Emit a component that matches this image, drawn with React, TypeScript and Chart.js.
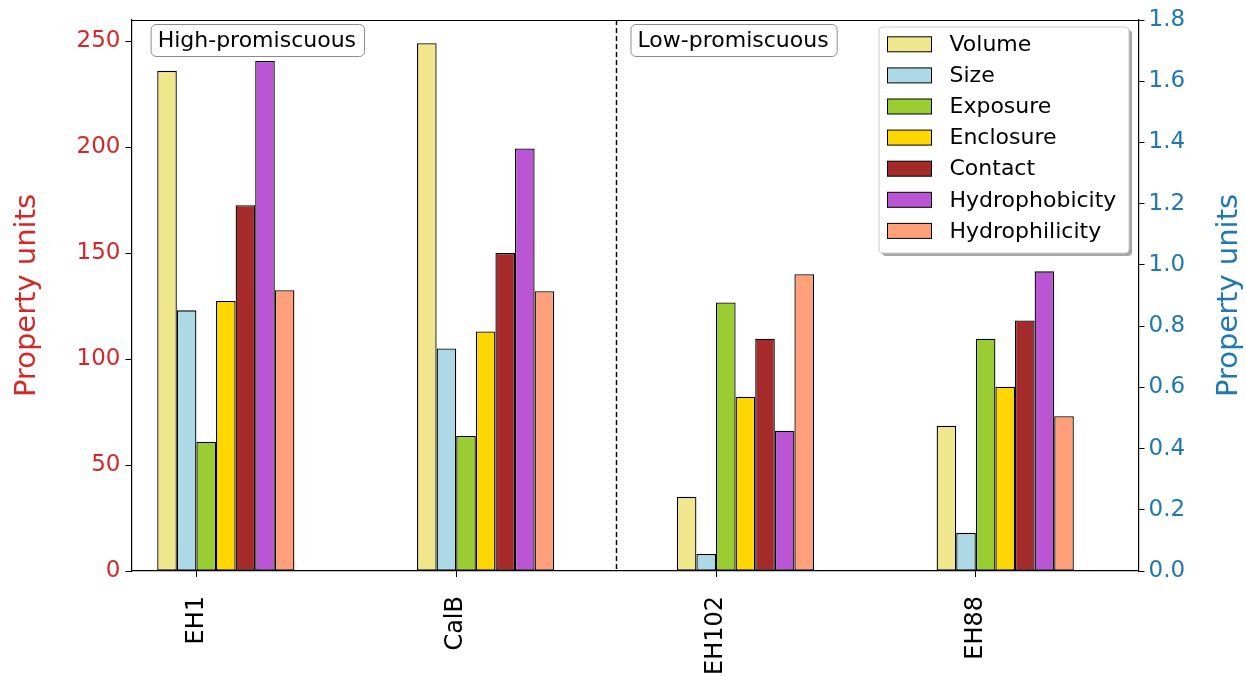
import React, { useEffect, useRef } from "react";
import { Chart, registerables } from "chart.js";

Chart.register(...registerables);

// ---------- data ----------
const categories = ["EH1", "CalB", "EH102", "EH88"];
const groupPositions = [0, 1, 2, 3];
const seriesNames = ["Volume", "Size", "Exposure", "Enclosure", "Contact", "Hydrophobicity", "Hydrophilicity"];
const seriesColors = ["#F0E68C", "#ADD8E6", "#9ACD32", "#FFD700", "#A52A2A", "#BA55D3", "#FFA07A"];
const volume = [236, 249, 35, 68.5];
const size = [123, 105, 8, 18];
const exposure = [61, 63.7, 126.7, 109.6];
const enclosure = [127.4, 113, 82.2, 87];
const contact = [172.6, 150, 109.6, 118.2];
const hydrophobicity = [240.7, 199.4, 66.2, 141.4];
const hydrophilicity = [132.5, 132, 140, 73];
const seriesValues = [volume, size, exposure, enclosure, contact, hydrophobicity, hydrophilicity];
const leftTicks = [0, 50, 100, 150, 200, 250];
const rightTicks = [0.0, 0.2, 0.4, 0.6, 0.8, 1.0, 1.2, 1.4, 1.6, 1.8];
const groupLabels = ["High-promiscuous", "Low-promiscuous"];
const dividerPosition = 1.5;
const axisTitle = "Property units";

// ---------- layout constants ----------
const FONT = "DejaVu Sans";
const GROUP_WIDTH = 0.528; // fraction of category spacing covered by a group
const TICK_SHIFT = -1.5 * (GROUP_WIDTH / 7);
const LEFT_COLOR = "#d62728";
const RIGHT_COLOR = "#1f77b4";

function roundRect(ctx: CanvasRenderingContext2D, x: number, y: number, w: number, h: number, r: number) {
  ctx.beginPath();
  ctx.moveTo(x + r, y);
  ctx.lineTo(x + w - r, y);
  ctx.arcTo(x + w, y, x + w, y + r, r);
  ctx.lineTo(x + w, y + h - r);
  ctx.arcTo(x + w, y + h, x + w - r, y + h, r);
  ctx.lineTo(x + r, y + h);
  ctx.arcTo(x, y + h, x, y + h - r, r);
  ctx.lineTo(x, y + r);
  ctx.arcTo(x, y, x + r, y, r);
  ctx.closePath();
}

const decorPlugin = {
  id: "decor",
  afterDraw(chart: any) {
    const ctx: CanvasRenderingContext2D = chart.ctx;
    const a = chart.chartArea;
    const xs = chart.scales.x;
    ctx.save();
    // frame (top spine)
    ctx.strokeStyle = "#000";
    ctx.lineWidth = 1.2;
    ctx.beginPath();
    ctx.moveTo(a.left, a.top + 0.5);
    ctx.lineTo(a.right, a.top + 0.5);
    ctx.stroke();

    // divider
    const dx = Math.round(xs.getPixelForValue(dividerPosition)) + 0.5;
    ctx.setLineDash([5, 3]);
    ctx.lineWidth = 1.5;
    ctx.beginPath();
    ctx.moveTo(dx, a.top);
    ctx.lineTo(dx, a.bottom);
    ctx.stroke();
    ctx.setLineDash([]);

    // right axis title (reads bottom-to-top)
    ctx.save();
    ctx.translate(1229, (a.top + a.bottom) / 2);
    ctx.rotate(-Math.PI / 2);
    ctx.font = `29px "${FONT}"`;
    ctx.fillStyle = RIGHT_COLOR;
    ctx.textAlign = "center";
    ctx.textBaseline = "middle";
    ctx.fillText(axisTitle, 0, 0);
    ctx.restore();

    // group annotations
    ctx.font = `22px "${FONT}"`;
    ctx.textBaseline = "middle";
    ctx.textAlign = "left";
    const width = a.right - a.left;
    const boxLefts = [a.left + 0.019 * width, a.left + 0.4955 * width];
    groupLabels.forEach((label, i) => {
      const tw = ctx.measureText(label).width;
      const bx = boxLefts[i];
      const by = a.top + 4;
      const bw = tw + 15;
      const bh = 32;
      roundRect(ctx, bx + 0.5, by + 0.5, bw, bh, 5);
      ctx.fillStyle = "#fff";
      ctx.fill();
      ctx.strokeStyle = "#8c8c8c";
      ctx.lineWidth = 1;
      ctx.stroke();
      ctx.fillStyle = "#000";
      ctx.fillText(label, bx + 7, by + bh / 2 + 1);
    });

    // legend
    const lw = 250;
    const lh = 226;
    const lx = a.right - 9.5 - lw;
    const ly = a.top + 7;
    roundRect(ctx, lx + 3, ly + 3, lw, lh, 4);
    ctx.fillStyle = "rgba(0,0,0,0.35)";
    ctx.fill();
    roundRect(ctx, lx, ly, lw, lh, 4);
    ctx.fillStyle = "#fff";
    ctx.fill();
    ctx.strokeStyle = "#cccccc";
    ctx.lineWidth = 1;
    ctx.stroke();
    chart.data.datasets.forEach((ds: any, k: number) => {
      const cy = ly + 17.3 + k * 31.1;
      ctx.fillStyle = ds.backgroundColor;
      ctx.fillRect(lx + 8.5, cy - 7.5, 44, 15);
      ctx.strokeStyle = "#000";
      ctx.lineWidth = 1;
      ctx.strokeRect(lx + 8.5, cy - 7.5, 44, 15);
      ctx.fillStyle = "#000";
      ctx.fillText(ds.label, lx + 70.5, cy + 1);
    });
    ctx.restore();
  },
};

export default function App() {
  const canvasRef = useRef<HTMLCanvasElement | null>(null);

  useEffect(() => {
    if (!canvasRef.current) return;
    const datasets = seriesNames.map((name, k) => ({
      label: name,
      data: groupPositions.map((x, i) => ({ x, y: seriesValues[k][i] })),
      backgroundColor: seriesColors[k],
      borderColor: "#000",
      borderWidth: 1.3,
      borderSkipped: false as const,
      categoryPercentage: GROUP_WIDTH,
      barPercentage: 1,
      yAxisID: "y",
    }));

    const chart = new Chart(canvasRef.current, {
      type: "bar",
      data: { datasets },
      options: {
        animation: false,
        responsive: false,
        layout: { padding: { left: 0, right: 0, top: 20, bottom: 0 } },
        plugins: { legend: { display: false }, tooltip: { enabled: false }, title: { display: false } },
        scales: {
          x: {
            type: "linear",
            offset: false,
            min: -0.363,
            max: 3.513,
            afterBuildTicks: (s: any) => {
              s.ticks = groupPositions.map((p) => ({ value: p + TICK_SHIFT }));
            },
            afterFit: (s: any) => {
              s.height = 105;
            },
            ticks: {
              autoSkip: false,
              minRotation: 90,
              maxRotation: 90,
              padding: 19,
              color: "#000",
              font: { family: FONT, size: 24 },
              callback: (_v: any, i: number) => categories[i],
            },
            grid: { offset: false, drawOnChartArea: false, drawTicks: true, tickLength: 6, color: "#000", lineWidth: 1 },
            border: { display: true, color: "#000", width: 1.2 },
          },
          y: {
            type: "linear",
            position: "left",
            min: 0,
            max: 260,
            afterBuildTicks: (s: any) => {
              s.ticks = leftTicks.map((v) => ({ value: v }));
            },
            afterFit: (s: any) => {
              s.width = 131.5;
            },
            ticks: { color: LEFT_COLOR, padding: 5, font: { family: FONT, size: 23 } },
            grid: { drawOnChartArea: false, drawTicks: true, tickLength: 6, color: "#000" },
            border: { display: true, color: "#000", width: 1.2 },
            title: {
              display: true,
              text: axisTitle,
              color: LEFT_COLOR,
              font: { family: FONT, size: 29 },
              padding: { top: 10, bottom: 0 },
            },
          },
          y1: {
            type: "linear",
            position: "right",
            min: 0,
            max: 1.8,
            afterBuildTicks: (s: any) => {
              s.ticks = rightTicks.map((v) => ({ value: v }));
            },
            afterFit: (s: any) => {
              s.width = 107.5;
            },
            ticks: {
              color: RIGHT_COLOR,
              padding: 4,
              font: { family: FONT, size: 23 },
              callback: (v: any) => Number(v).toFixed(1),
            },
            grid: { drawOnChartArea: false, drawTicks: true, tickLength: 6, color: "#000" },
            border: { display: true, color: "#000", width: 1.2 },
          },
        },
      },
      plugins: [decorPlugin],
    } as any);
    return () => chart.destroy();
  }, []);

  return (
    <div style={{ position: "fixed", left: 0, top: 0, width: 1246, height: 676, background: "#fff" }}>
      <canvas ref={canvasRef} width={1246} height={676} style={{ display: "block" }} />
    </div>
  );
}
